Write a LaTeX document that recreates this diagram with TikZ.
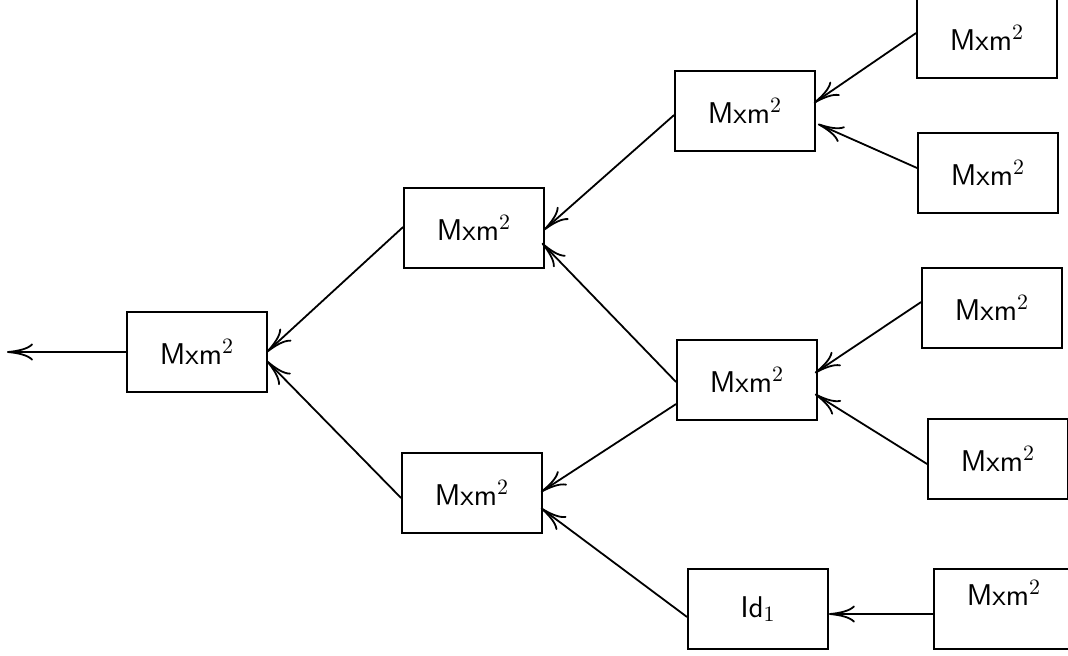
\documentclass[tikz,border=0pt]{standalone}
\usetikzlibrary{arrows.meta,calc}
\begin{document}
\begin{tikzpicture}[x=0.5pt,y=-0.5pt,
  mbox/.style={draw,line width=0.9pt,rectangle,minimum width=70pt,minimum height=40pt,inner sep=0pt,
    font=\fontsize{15}{18}\selectfont\sffamily},
  conn/.style={line width=0.9pt,-{To[length=13pt,width=8.5pt]}}]
\clip (0,0) rectangle (1068,655);
\node[mbox] (A) at (197,352) {Mxm$^2$};
\node[mbox] (B) at (474,228) {Mxm$^2$};
\node[mbox] (C) at (472,493) {Mxm$^2$};
\node[mbox] (D) at (745,111) {Mxm$^2$};
\node[mbox] (E) at (747,380) {Mxm$^2$};
\node[mbox] (F) at (758,609) {Id$_1$};
\node[mbox] (G) at (987,38) {Mxm$^2$};
\node[mbox] (H) at (988,173) {Mxm$^2$};
\node[mbox] (I) at (992,308) {Mxm$^2$};
\node[mbox] (J) at (998,459) {Mxm$^2$};
\node[mbox,text depth=16pt] (K) at (1004,609) {Mxm$^2$};
\coordinate (out) at (7,352);
\draw[conn] (A.west) -- (out);
\draw[conn] ($(B.west)+(0,-1)$) -- ($(A.east)+(-1,0)$);
\draw[conn] ($(C.west)+(0,5)$) -- ($(A.east)+(-1,9)$);
\draw[conn] ($(D.west)+(0,4)$) -- ($(B.east)+(-1,2)$);
\draw[conn] ($(E.west)+(0,2)$) -- ($(B.east)+(-3,15)$);
\draw[conn] ($(E.west)+(0,24)$) -- ($(C.east)+(-2,-1)$);
\draw[conn] ($(F.west)+(0,8)$) -- ($(C.east)+(-2,15)$);
\draw[conn] ($(G.west)+(0,-5)$) -- ($(D.east)+(-2,-8)$);
\draw[conn] ($(H.west)+(0,-5)$) -- ($(D.east)+(2,13)$);
\draw[conn] ($(I.west)+(0,-6)$) -- ($(E.east)+(-3,-7)$);
\draw[conn] ($(J.west)+(0,5)$) -- ($(E.east)+(-3,14)$);
\draw[conn] ($(K.west)+(0,5)$) -- ($(F.east)+(0,5)$);
\end{tikzpicture}
\end{document}
